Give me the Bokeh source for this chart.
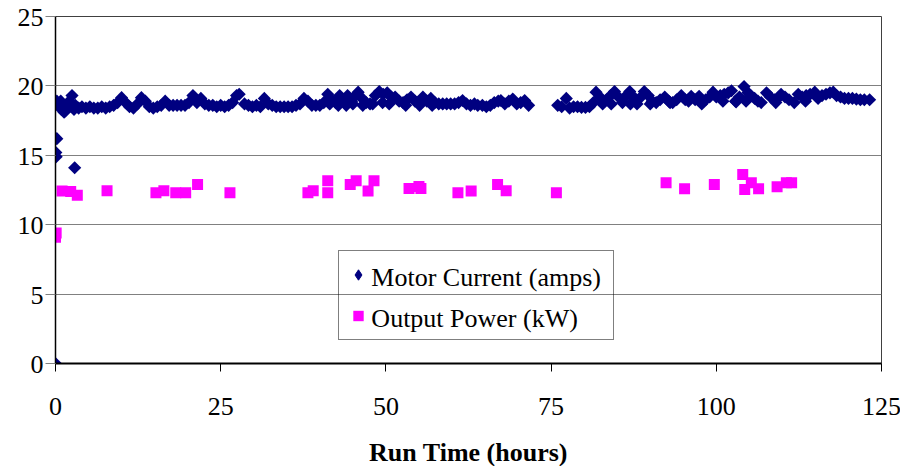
import math
from bokeh.plotting import figure
from bokeh.models import Range1d, FixedTicker, Legend, LegendItem
from bokeh.core.properties import value
from bokeh.embed import file_html
from bokeh.resources import INLINE

# ---- data ----
x_ticks = [0, 25, 50, 75, 100, 125]
y_ticks = [0, 5, 10, 15, 20, 25]

mc_hours = [
    0.0, 0.2, 0.05, 0.1, 2.9,
    0.2, 0.5, 0.8, 0.9, 1.3, 1.5, 1.7, 2.1, 2.5, 2.8, 3.0, 3.5, 4.0, 4.6, 5.2, 5.8,
    6.4, 7.0, 7.6, 8.2, 8.8, 9.4, 10.0, 10.6, 11.2, 11.8, 12.4, 13.0, 13.6, 14.2,
    14.8, 15.4, 16.0, 16.6, 17.2, 17.8, 18.4, 19.0, 19.6, 20.2, 20.8, 21.4, 22.0,
    22.6, 23.2, 23.8, 24.4, 25.0, 25.6, 26.2, 26.8, 27.4, 27.8, 28.6, 29.2, 29.8,
    30.4, 31.0, 31.6, 32.2, 32.8, 33.4, 34.0, 34.6, 35.2, 35.8, 36.4, 37.0, 37.6,
    38.2, 38.8, 39.4, 40.0, 40.6, 41.2, 41.5, 41.8, 42.4, 42.8, 43.0, 43.6, 44.0,
    44.2, 44.8, 45.0, 45.4, 45.8, 46.4, 46.5, 47.0, 47.6, 48.0, 48.4, 49.0, 49.5,
    49.6, 50.2, 50.5, 50.8, 51.4, 52.0, 52.6, 53.0, 53.2, 53.8, 54.4, 55.0, 55.1,
    55.6, 56.2, 56.8, 57.0, 57.4, 58.0, 58.6, 59.2, 59.8, 60.4, 61.0, 61.6, 62.2,
    62.8, 63.4, 63.9, 64.6, 65.2, 65.8, 66.4, 67.0, 67.4, 68.0, 68.6, 69.2, 69.8,
    70.4, 71.0, 71.6,
    76.0, 76.6, 77.3, 77.8, 78.4, 79.0, 79.6, 80.2, 80.8, 81.4, 81.8, 82.4, 82.8,
    83.4, 84.0, 84.1, 84.6, 85.2, 85.8, 86.4, 86.9, 87.0, 87.5, 88.0, 88.6, 89.1,
    89.7, 90.0, 90.3, 90.9, 91.5, 92.2, 92.8, 93.0, 93.4, 94.0, 94.7, 95.3, 95.8,
    96.2, 96.8, 97.4, 97.8, 98.4, 99.0, 99.5, 100.0, 100.6, 101.0, 101.2, 101.8,
    102.3, 102.9, 103.0, 103.5, 104.2, 104.5, 104.8, 105.2, 105.8, 106.3, 106.8,
    107.6, 108.2, 108.8, 109.0, 109.3, 109.8, 110.4, 111.0, 111.8, 112.4, 113.0,
    113.5, 113.6, 114.2, 114.9, 115.4, 116.0, 116.6, 117.2, 117.7, 118.2, 118.8,
    119.4, 120.0, 120.6, 121.2, 121.8, 122.4, 123.2,
]
mc_amps = [
    0.0, 16.2, 15.2, 14.9, 14.1,
    18.9, 18.6, 18.9, 18.3, 18.1, 18.2, 18.5, 18.9, 19.3, 18.3, 18.6, 18.4, 18.5, 18.4, 18.5, 18.4,
    18.4, 18.5, 18.4, 18.5, 18.6, 18.8, 19.15, 18.8, 18.5, 18.4, 18.7, 19.15, 18.9, 18.5,
    18.4, 18.5, 18.6, 18.9, 18.6, 18.6, 18.6, 18.6, 18.6, 18.8, 19.3, 18.8, 19.1,
    18.7, 18.6, 18.6, 18.5, 18.6, 18.5, 18.6, 18.8, 19.3, 19.4, 18.7, 18.6, 18.5,
    18.6, 18.5, 19.1, 18.7, 18.6, 18.5, 18.5, 18.5, 18.5, 18.5, 18.6, 18.7, 19.1,
    18.9, 18.6, 18.6, 18.6, 18.8, 19.4, 18.7, 19.0, 18.8, 18.6, 19.3, 19.0, 18.6,
    19.3, 18.9, 18.7, 19.3, 19.55, 19.1, 18.6, 18.8, 18.7, 18.7, 19.3, 19.6, 18.8,
    19.4, 19.5, 18.7, 19.2, 19.2, 18.9, 18.8, 18.6, 19.0, 19.2, 18.9, 18.8, 18.6,
    19.2, 18.9, 19.1, 18.6, 18.8, 18.7, 18.7, 18.7, 18.7, 18.7, 18.8, 18.95, 18.7,
    18.6, 18.7, 18.6, 18.6, 18.5, 18.6, 18.8, 18.9, 18.95, 18.7, 18.9, 19.05, 18.7,
    18.8, 18.95, 18.6,
    18.6, 18.5, 19.1, 18.4, 18.5, 18.5, 18.45, 18.45, 18.5, 18.8, 19.55, 19.2, 18.7,
    19.0, 19.3, 18.7, 19.6, 19.2, 18.8, 19.3, 19.6, 18.7, 19.2, 18.7, 19.2, 19.6,
    19.3, 18.7, 18.9, 18.8, 19.0, 19.2, 18.9, 18.8, 18.8, 19.0, 19.3, 19.0, 18.9,
    19.25, 19.0, 19.25, 18.7, 19.0, 19.2, 19.55, 19.2, 19.3, 18.9, 19.4, 19.5,
    19.65, 18.9, 18.85, 19.2, 19.95, 18.9, 19.5, 19.3, 19.1, 18.9, 18.8,
    19.5, 19.2, 19.0, 18.8, 19.1, 19.4, 19.2, 19.0, 18.8, 19.4, 19.2,
    18.9, 19.3, 19.4, 19.55, 19.1, 19.3, 19.4, 19.5, 19.55, 19.3, 19.2,
    19.1, 19.1, 19.1, 19.05, 19.0, 19.0, 19.0,
]

op_hours = [
    0.0, 0.1, 1.0, 2.3, 3.3, 7.8, 15.2, 16.4, 18.2, 19.7, 21.5, 26.4,
    38.2, 39.0, 41.2, 41.2, 44.6, 45.5, 47.3, 48.2, 53.5, 55.0, 55.3, 60.9,
    62.9, 66.9, 68.2, 75.8, 92.4, 95.2, 99.7, 104.0, 104.3, 105.3, 106.4,
    109.2, 110.6, 111.4,
]
op_kw = [
    9.1, 9.4, 12.42, 12.4, 12.13, 12.44, 12.3, 12.44, 12.3, 12.3, 12.9, 12.3,
    12.3, 12.45, 13.17, 12.3, 12.9, 13.17, 12.42, 13.17, 12.6, 12.75, 12.6, 12.3,
    12.42, 12.9, 12.44, 12.3, 13.02, 12.59, 12.9, 13.62, 12.54, 13.02, 12.59,
    12.73, 13.02, 13.02,
]

series_names = ["Motor Current (amps)", "Output Power (kW)"]
x_title = "Run Time (hours)"

FONT = "Liberation Serif"
FSIZE = "26px"

p = figure(width=900, height=466, output_backend="svg", toolbar_location=None,
           x_range=Range1d(0, 125), y_range=Range1d(0, 25),
           min_border_left=55, min_border_right=19, min_border_top=16,
           min_border_bottom=103)
p.background_fill_color = "white"
p.border_fill_color = "white"
p.outline_line_color = "#404040"
p.outline_line_width = 1

mc = p.scatter(mc_hours, mc_amps, marker="square", size=9.3, angle=math.pi / 4,
               fill_color="#000080", line_color=None)
op = p.scatter(op_hours, op_kw, marker="square", size=11,
               fill_color="#FF00FF", line_color=None)
# hidden twin of the motor-current series, used only for its diamond legend symbol
mc_key = p.scatter(mc_hours, mc_amps, marker="diamond", size=9.3,
                   fill_color="#000080", line_color="#000080", visible=False)

# axes (lines, ticks, grid from Bokeh; label texts drawn as serif text glyphs)
p.xaxis.ticker = FixedTicker(ticks=x_ticks)
p.yaxis.ticker = FixedTicker(ticks=y_ticks)
p.xaxis.major_label_overrides = {t: "" for t in x_ticks}
p.yaxis.major_label_overrides = {t: "" for t in y_ticks}
p.xgrid.visible = False
p.ygrid.grid_line_color = "#808080"
p.ygrid.grid_line_width = 1

for ax in (p.xaxis[0], p.yaxis[0]):
    ax.minor_tick_line_color = None
    ax.major_tick_in = 0
    ax.axis_line_color = "black"

p.xaxis.axis_line_width = 2
p.xaxis.major_tick_out = 8
p.xaxis.major_tick_line_color = "black"
p.yaxis.axis_line_width = 1.5
p.yaxis.major_tick_out = 10
p.yaxis.major_tick_line_color = "#808080"

tick_zero_x = [0] * len(y_ticks)
tick_zero_y = [0] * len(x_ticks)
p.text(x=x_ticks, y=tick_zero_y, text=[str(t) for t in x_ticks],
       text_font=value(FONT), text_font_size=FSIZE, text_color="black",
       text_align="center", text_baseline="alphabetic", y_offset=43, level="overlay")
p.text(x=tick_zero_x, y=y_ticks, text=[str(t) for t in y_ticks],
       text_font=value(FONT), text_font_size=FSIZE, text_color="black",
       text_align="right", text_baseline="middle", x_offset=-12, y_offset=1,
       level="overlay")
p.text(x=[(x_ticks[0] + x_ticks[-1]) / 2], y=[0], text=[x_title],
       text_font=value(FONT), text_font_size=FSIZE, text_font_style="bold",
       text_color="black", text_align="center", text_baseline="alphabetic",
       y_offset=89, level="overlay")

legend = Legend(items=[LegendItem(label=" ", renderers=[mc_key]),
                       LegendItem(label=" ", renderers=[op])],
                location=(283, 23))
legend.label_text_font_size = FSIZE
legend.border_line_color = "black"
legend.border_line_width = 1
legend.background_fill_color = "white"
legend.background_fill_alpha = 0
legend.inactive_fill_alpha = 0
legend.padding = 6
legend.spacing = 6
legend.glyph_width = 26
legend.glyph_height = 35
legend.label_height = 35
legend.label_width = 234
legend.label_standoff = 2
legend.margin = 0
legend.click_policy = "none"
p.add_layout(legend)

# legend label texts, placed over the legend rows (data units of the frame)
p.text(x=[47.8, 47.8], y=[6.2, 3.25], text=series_names,
       text_font=value(FONT), text_font_size=FSIZE, text_color="black",
       text_align="left", text_baseline="middle", level="overlay")

open("out.html", "w").write(file_html(p, INLINE))
